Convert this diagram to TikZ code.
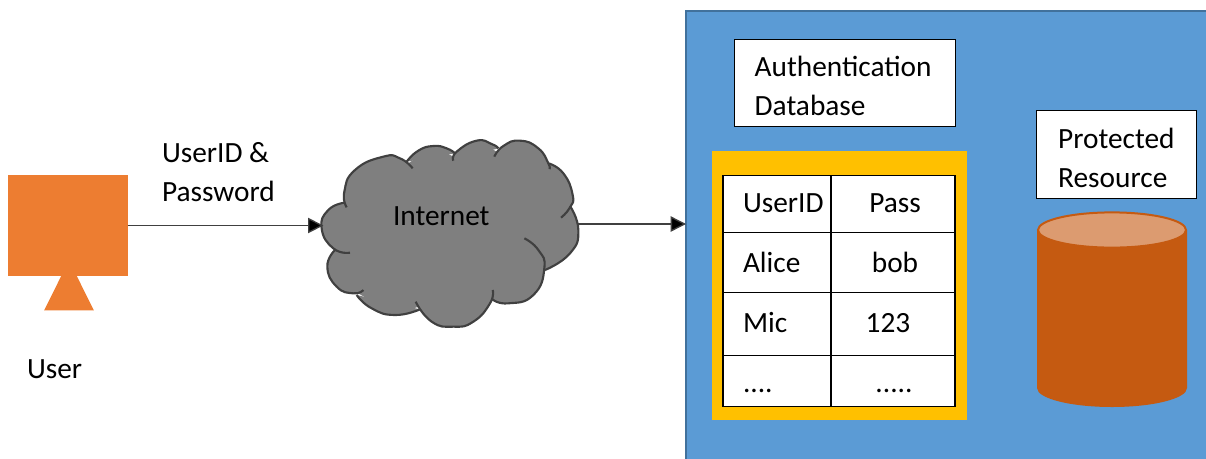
\documentclass[tikz,border=0pt]{standalone}
\usepackage{fontspec}
\setmainfont{Carlito}
\usetikzlibrary{
  arrows.meta,
  positioning,
  shapes.geometric,
}
\definecolor{panelblue}{HTML}{5B9BD5}
\definecolor{paneledge}{HTML}{41719C}
\definecolor{tableyellow}{HTML}{FFC000}
\definecolor{userorange}{HTML}{ED7D31}
\definecolor{cylbody}{HTML}{C55A11}
\definecolor{cyltop}{HTML}{DC9B70}
\definecolor{cloudgray}{HTML}{7F7F7F}
\definecolor{cloudedge}{HTML}{404040}
\tikzset{
  txt/.style = {
      inner sep=0pt, outer sep=0pt,
      font=\fontsize{22}{29.25}\selectfont,
      anchor=base west,
    },
  ctxt/.style = {
      txt,
      anchor=base,
    },
  cell/.style = {
      rectangle,
      draw=black,
      fill=white,
      line width=0.8pt,
      inner sep=0pt, outer sep=0pt,
    },
  titlebox/.style = {
      cell,
      font=\fontsize{22}{29.25}\selectfont,
      align=left,
      inner xsep=15pt,
      text height=20pt,
    },
  solid shape/.style = {
      rectangle,
      fill=#1,
      inner sep=0pt, outer sep=0pt,
    },
  conn/.style = {
      draw=cloudedge,
      line width=1pt,
      -{Triangle[length=11.5pt, width=11.5pt, fill=black]},
    },
}
% one plot per bump of the cloud, in the coordinates of a 3x grid
\newcommand{\cloudlobes}[1]{
  \path[#1] plot[smooth, tension=0.9] coordinates {(140,262) (133,215) (165,150) (250,110) (300,115) (338,145)};
  \path[#1] plot[smooth, tension=0.9] coordinates {(320,125) (355,92) (400,78) (440,85) (465,100)};
  \path[#1] plot[smooth, tension=0.9] coordinates {(460,122) (470,95) (530,62) (575,72) (595,85)};
  \path[#1] plot[smooth, tension=0.9] coordinates {(583,110) (610,78) (660,62) (715,85) (745,130) (748,147)};
  \path[#1] plot[smooth, tension=0.9] coordinates {(745,130) (790,160) (818,225) (810,262) (783,293)};
  \path[#1] plot[smooth, tension=0.9] coordinates {(810,258) (835,330) (810,400) (735,450)};
  \path[#1] plot[smooth, tension=0.9] coordinates {(673,355) (715,390) (733,445) (700,525) (625,550) (577,538)};
  \path[#1] plot[smooth, tension=0.9] coordinates {(578,510) (570,550) (520,605) (460,620) (395,605) (347,545)};
  \path[#1] plot[smooth, tension=0.9] coordinates {(360,568) (285,585) (215,565) (170,525)};
  \path[#1] plot[smooth, tension=0.9] coordinates {(190,510) (160,520) (110,500) (82,440) (105,390)};
  \path[#1] plot[smooth, tension=0.9] coordinates {(150,398) (100,385) (65,325) (85,270) (135,248)};
}

\begin{document}
\begin{tikzpicture}[x=0.75pt, y=-0.75pt]
    \useasboundingbox (0,0) rectangle (1206,458);
    \clip (0,0) rectangle (1206,458);

    % user
    \node[solid shape=userorange, isosceles triangle, isosceles triangle apex angle=53, shape border rotate=90, minimum height=37.5pt] (userstand) at (69,295) {};
    \node[solid shape=userorange, minimum width=89.6pt, minimum height=75.8pt] (usermon) at (67.8,225.5) {};
    \node[txt] (userlabel) at (27,378) {User};

    % server side
    \node[cell, draw=paneledge, fill=panelblue, line width=1.5pt, minimum width=450pt, minimum height=400pt, anchor=north west] (panel) at (686,11) {};
    \node[solid shape=tableyellow, minimum width=191.5pt, minimum height=201.8pt] (tablebg) at (839.7,285.5) {};

    \node[titlebox, minimum width=165.5pt, minimum height=65.5pt, text width=135.5pt] (authbox) at (845,82.7) {Authentication\\Database};
    \node[titlebox, minimum width=120pt, minimum height=65.5pt, text width=87.5pt, inner xsep=16.25pt] (resbox) at (1116.5,154.5) {Protected\\Resource};

    % table
    \node[cell, minimum width=81pt, minimum height=42.4pt] (c11) at (777,204.2) {}; \node[txt]  at (743,212.7) {UserID};
    \node[cell, minimum width=93pt, minimum height=42.4pt] (c12) at (893,204.2) {}; \node[ctxt] at (895,212.7) {Pass};
    \node[cell, minimum width=81pt, minimum height=45.2pt] (c21) at (777,262.6) {}; \node[txt]  at (743,272.7) {Alice};
    \node[cell, minimum width=93pt, minimum height=45.2pt] (c22) at (893,262.6) {}; \node[ctxt] at (895,272.7) {bob};
    \node[cell, minimum width=81pt, minimum height=46.7pt] (c31) at (777,324) {};   \node[txt]  at (743,332.7) {Mic};
    \node[cell, minimum width=93pt, minimum height=46.7pt] (c32) at (893,324) {};   \node[ctxt] at (888,332.7) {123};
    \node[cell, minimum width=81pt, minimum height=38.2pt] (c41) at (777,380.7) {}; \node[txt]  at (743,392.7) {....};
    \node[cell, minimum width=93pt, minimum height=38.2pt] (c42) at (893,380.7) {}; \node[ctxt] at (894,392.7) {.....};

    % protected resource
    \fill[cylbody] (1037,230) -- (1037,388) arc[start angle=180, end angle=360, x radius=56.25pt, y radius=14.25pt] -- (1187,230) -- cycle;
    \draw[cylbody, fill=cyltop, line width=1.5pt] (1112,230) ellipse[x radius=55.5pt, y radius=13.2pt];

    % cloud
    \begin{scope}[shift={(300,120)}, x=0.25pt, y=-0.25pt]
      \fill[cloudgray] (140,255) -- (250,110) -- (325,130) -- (400,78) -- (460,110) -- (530,62) -- (590,95) -- (660,62) -- (745,135) -- (818,225) -- (805,265) -- (835,330) -- (735,450) -- (700,525) -- (577,538) -- (460,620) -- (355,560) -- (285,585) -- (175,520) -- (110,500) -- (105,392) -- (65,325) -- cycle;
      \cloudlobes{fill=cloudgray}
      \cloudlobes{draw=cloudedge, line width=1.6pt}
      \coordinate (cloudw) at (70,317);
      \coordinate (cloude) at (834,312);
    \end{scope}
    \node[txt] (cloudlabel) at (393,225) {Internet};

    % connectors
    \draw[conn] (usermon.east) -- (usermon.east -| cloudw);
    \draw[conn] (cloude) -- (cloude -| panel.west);
    \node[txt, align=left, anchor=base west] (credlabel) at (162,201.7) {UserID \&\\Password};
\end{tikzpicture}
\end{document}
